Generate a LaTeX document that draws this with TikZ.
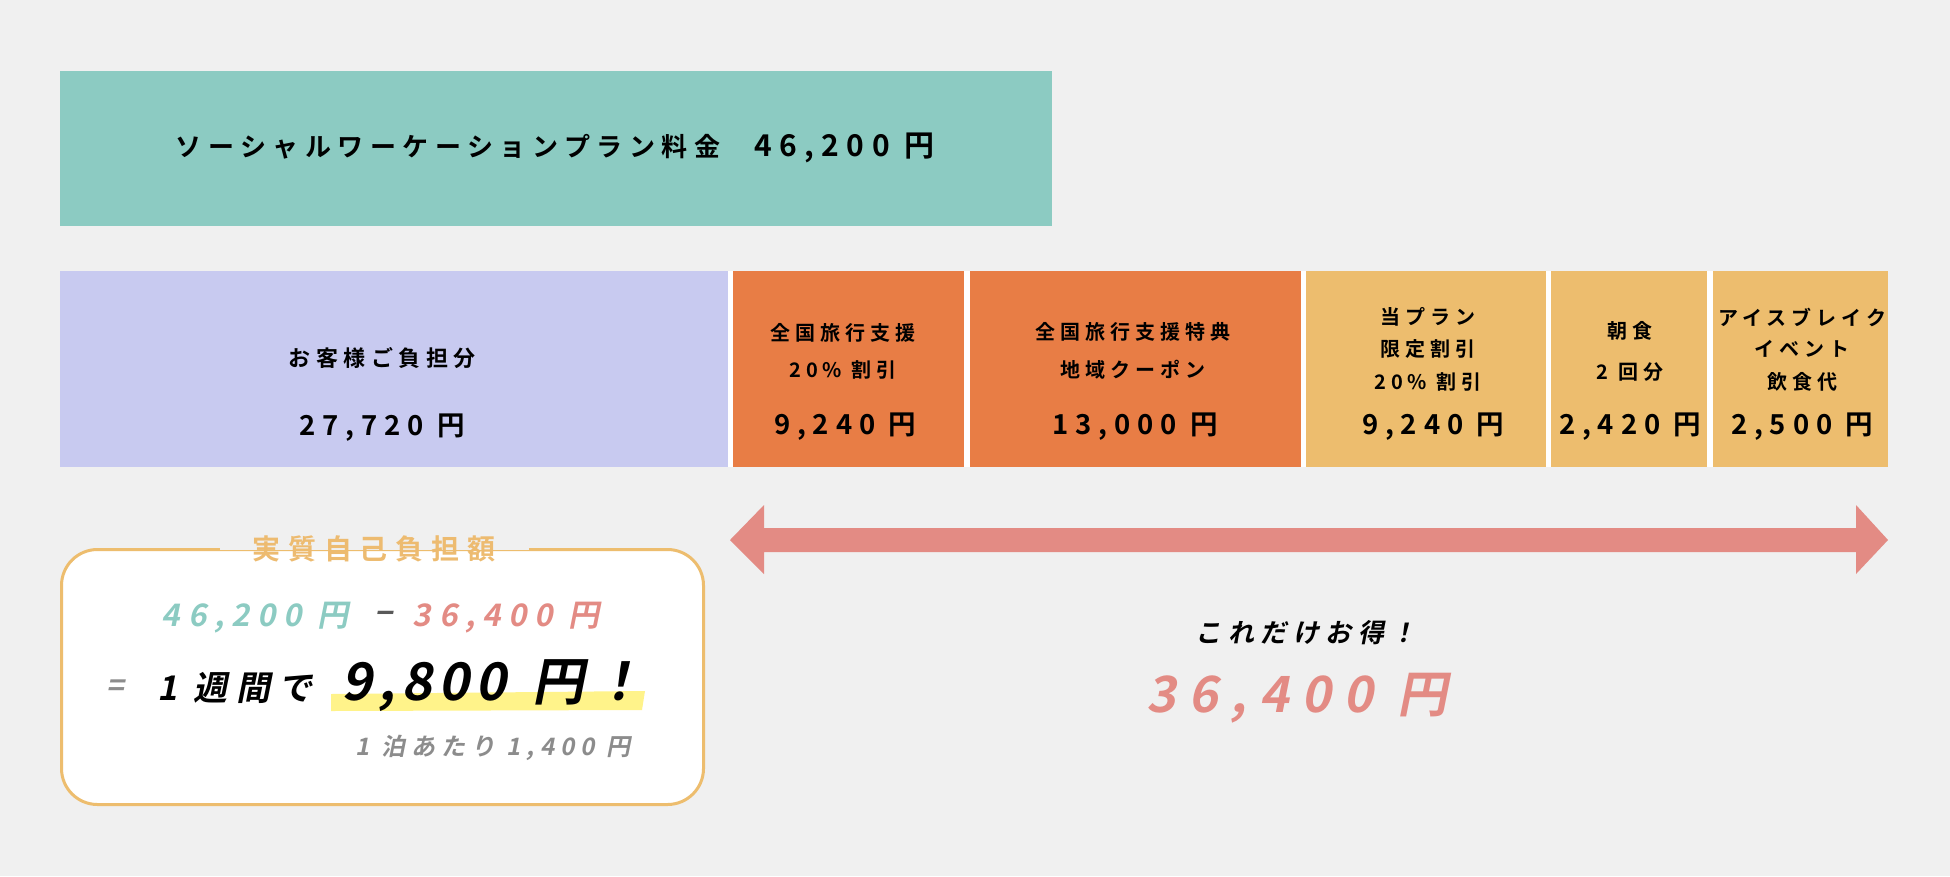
\documentclass[tikz,border=0pt]{standalone}
\usepackage{fontspec}
\newfontfamily\jpB{Noto Sans CJK JP Bold}[LetterSpace=25]
\newfontfamily\jpBI{Noto Sans CJK JP Bold}[LetterSpace=25,FakeSlant=0.2]
\definecolor{bgc}{HTML}{F0F0F0}
\definecolor{tealc}{HTML}{8CCBC2}
\definecolor{lavc}{HTML}{C8CAF0}
\definecolor{orc}{HTML}{E87D45}
\definecolor{yec}{HTML}{EDBD6E}
\definecolor{salc}{HTML}{E38B84}
\definecolor{grayc}{HTML}{8C8C8C}
\definecolor{hlc}{HTML}{FFF38A}
\definecolor{titc}{HTML}{EDBB70}
\newcommand\fsz[1]{\fontsize{#1pt}{#1pt}\selectfont}
\tikzset{
  blk/.style={rectangle, inner sep=0pt, anchor=north west, minimum height=196pt},
  lbl/.style={inner sep=0pt, anchor=center, font=\jpB\fsz{20}},
  amt/.style={inner sep=0pt, anchor=center, font=\jpB\fsz{27.5}},
}
\begin{document}
\begin{tikzpicture}[x=1pt,y=-1pt]
\fill[bgc] (0,0) rectangle (1950,876);
\useasboundingbox (0,0) rectangle (1950,876);

% top plan box
\node[blk, fill=tealc, minimum width=992pt, minimum height=155pt] (plan) at (60,71) {};
\node[inner sep=0pt, font=\jpB\fsz{26}] (plantxt) at (555,148) {ソーシャルワーケーションプラン料金\hspace{34pt}{\fsz{30}46,200 円}};

% row of boxes
\fill[white] (60,271) rectangle (1888,467);
\node[blk, fill=lavc, minimum width=668pt] (lav) at (60,271) {};
\node[blk, fill=orc, minimum width=231pt] (or1) at (733,271) {};
\node[blk, fill=orc, minimum width=331pt] (or2) at (970,271) {};
\node[blk, fill=yec, minimum width=240pt] (ye1) at (1306,271) {};
\node[blk, fill=yec, minimum width=156pt] (ye2) at (1551,271) {};
\node[blk, fill=yec, minimum width=175pt] (ye3) at (1713,271) {};

\node[lbl, font=\jpB\fsz{22}] (lavA) at (382,358) {お客様ご負担分};
\node[amt] (lavB) at (382,428) {27,720 円};

\node[lbl] (or1A) at (843,333) {全国旅行支援};
\node[lbl] (or1B) at (843,370) {20\% 割引};
\node[amt] (or1C) at (845,427) {9,240 円};

\node[lbl] (or2A) at (1133,332) {全国旅行支援特典};
\node[lbl] (or2B) at (1133,370) {地域クーポン};
\node[amt] (or2C) at (1135,427) {13,000 円};

\node[lbl] (ye1A) at (1428,317) {当プラン};
\node[lbl] (ye1B) at (1428,349) {限定割引};
\node[lbl] (ye1C) at (1428,382) {20\% 割引};
\node[amt] (ye1D) at (1433,427) {9,240 円};

\node[lbl] (ye2A) at (1630,331) {朝食};
\node[lbl] (ye2B) at (1630,372) {2 回分};
\node[amt] (ye2C) at (1630,427) {2,420 円};

\node[lbl] (ye3A) at (1802,317) {アイスブレイク};
\node[lbl] (ye3B) at (1802,349) {イベント};
\node[lbl] (ye3C) at (1802,382) {飲食代};
\node[amt] (ye3D) at (1802,427) {2,500 円};

% double arrow
\coordinate (arL) at (730,540);
\coordinate (arR) at (1888,540);
\fill[salc] (arL) -- (764,505) -- (764,528) -- (1856,528) -- (1856,505) -- (arR)
  -- (1856,574) -- (1856,552) -- (764,552) -- (764,574) -- cycle;

\node[inner sep=0pt, font=\jpBI\fsz{26}] (otoku) at (1306,633) {これだけお得！};
\node[inner sep=0pt, font=\jpBI\fsz{50}, text=salc] (otokuamt) at (1297,698) {36,400 円};

% left panel
\node[blk, draw=yec, line width=3pt, fill=white, rounded corners=36pt,
      minimum width=642pt, minimum height=255pt] (panel) at (60,548) {};
\fill[bgc] (220,528) rectangle (529,549.6);
\node[inner sep=0pt, text=titc,
      font=\jpB\addfontfeature{LetterSpace=28}\fsz{28}] (ptitle) at (374,549) {実質自己負担額};

\node[inner sep=0pt, text=tealc, font=\jpBI\fsz{31}] (f1) at (255,618) {46,200 円};
\node[inner sep=0pt, text=black!65, font=\jpBI\fsz{31}] (fm) at (384,618) {−};
\node[inner sep=0pt, text=salc, font=\jpBI\fsz{31}] (f2) at (506,618) {36,400 円};

\fill[hlc] (331,694) -- (645,691) -- (642,710) -- (331,711) -- cycle;
\node[inner sep=0pt, text=grayc, font=\jpBI\fsz{30}] (eq) at (115,688) {=};
\node[inner sep=0pt, font=\jpBI\fsz{34}] (week) at (235,688) {1 週間で};
\node[inner sep=0pt, font=\jpBI\addfontfeature{LetterSpace=12}\fsz{52}] (big) at (493,686) {9,800\hspace{8pt} 円\hspace{8pt}！};
\node[inner sep=0pt, text=grayc, font=\jpBI\fsz{24}] (night) at (493,748) {1 泊あたり 1,400 円};
\end{tikzpicture}
\end{document}
